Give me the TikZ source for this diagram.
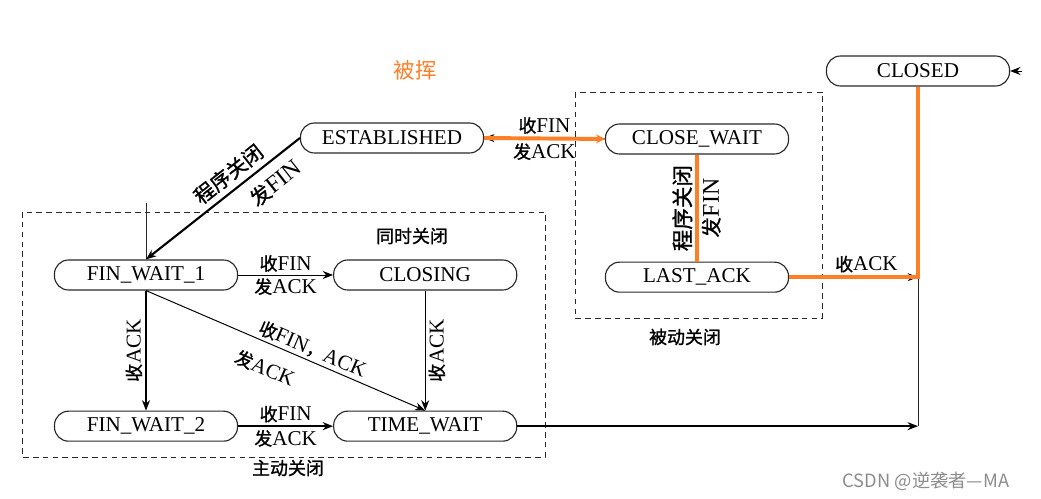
\documentclass[tikz,border=0pt]{standalone}
\usepackage{fontspec}
\setmainfont{Liberation Serif}
\newfontfamily\cjk[Scale=0.85,FakeBold=1.2]{Noto Sans CJK SC}
\newfontfamily\cjklight[Scale=0.85]{Noto Sans CJK SC}
\newfontfamily\wmfont{Noto Sans CJK SC}
\newcommand{\zh}[1]{{\cjk #1}}
\usepackage{tikz}
\usetikzlibrary{positioning,arrows.meta,calc}
\definecolor{hilite}{RGB}{255,127,39}
\definecolor{inkgray}{RGB}{40,40,40}
\tikzset{
  statebox/.style={draw=inkgray, line width=0.8pt, rounded corners=10pt,
                   minimum height=0.75cm, minimum width=4.575cm, inner sep=0pt,
                   font=\fontsize{15}{17}\selectfont},
  edgelabel/.style={font=\fontsize{15}{17}\selectfont, text=black, inner sep=2pt},
  biglabel/.style={edgelabel, font=\fontsize{17}{20}\selectfont},
  grouplabel/.style={font=\fontsize{15}{17}\selectfont},
  dashbox/.style={draw=inkgray, line width=0.7pt, dash pattern=on 4pt off 3pt},
  arrow/.style={-{Stealth[length=2.6mm,width=2mm]}, line width=1.5pt},
  backarrow/.style={{Stealth[length=2.6mm,width=2mm]}-, line width=1.5pt},
  thinarrow/.style={-{Stealth[length=2.6mm,width=2mm]}, line width=0.7pt},
  thinline/.style={line width=0.7pt, inkgray},
  hiline/.style={hilite, line width=2.8pt},
  hiarrow/.style={hiline, -{Stealth[length=2.2mm,width=2.2mm]}},
}

\begin{document}
\begin{tikzpicture}[x=0.025cm, y=-0.025cm, node distance=3cm and 2.375cm]
  \useasboundingbox (0,0) rectangle (1041,499);

  % states
  \node[statebox]                        (established) at (392,138) {ESTABLISHED};
  \node[statebox]                        (closewait)   at (697,139) {CLOSE\_WAIT};
  \node[statebox, below=2.675cm of closewait] (lastack)  {LAST\_ACK};
  \node[statebox]                        (closed)      at (918,71)  {CLOSED};
  \node[statebox]                        (fw1)         at (146,275) {FIN\_WAIT\_1};
  \node[statebox, right=of fw1]          (closing)     {CLOSING};
  \node[statebox, below=of fw1]          (fw2)         {FIN\_WAIT\_2};
  \node[statebox, right=of fw2]          (timewait)    {TIME\_WAIT};

  % groups
  \draw[dashbox] (22,212) rectangle (545,457);
  \draw[dashbox] (575,92) rectangle (822,318);
  \node[grouplabel] (simul)   at (412,236) {\zh{同时关闭}};
  \node[grouplabel] (active)  at (288,468) {\zh{主动关闭}};
  \node[grouplabel] (passive) at (685,337) {\zh{被动关闭}};
  \node[font=\fontsize{18}{20}\cjklight, text=hilite] (note) at (415,70) {被挥};
  \node[font=\fontsize{13}{15}\wmfont, text=black!45] (mark) at (926,481) {CSDN @逆袭者—MA};

  % active close
  \coordinate (fw1in) at (146,203);
  \draw[thinline] (fw1in) -- (fw1.north);
  \draw[backarrow] (fw1.north) -- (established.west)
    node[biglabel, pos=0.60, sloped, above, inner sep=4pt] {\zh{程序关闭}}
    node[biglabel, pos=0.76, sloped, below, inner sep=7pt] {\zh{发}FIN};
  \draw[thinarrow] (fw1) -- (closing)
    node[edgelabel, midway, above] {\zh{收}FIN}
    node[edgelabel, midway, below] {\zh{发}ACK};
  \draw[arrow] (fw1) -- (fw2)
    node[edgelabel, midway, rotate=90, anchor=south] {\zh{收}ACK};
  \draw[thinarrow] (fw1.south) -- (timewait.north)
    node[edgelabel, pos=0.58, sloped, above] {\zh{收}FIN\zh{，}ACK}
    node[edgelabel, pos=0.46, sloped, below, inner sep=11pt] {\zh{发}ACK};
  \draw[thinarrow] (closing) -- (timewait)
    node[edgelabel, midway, rotate=90, anchor=north] {\zh{收}ACK};
  \draw[arrow] (fw2) -- (timewait)
    node[edgelabel, midway, above] {\zh{收}FIN}
    node[edgelabel, midway, below] {\zh{发}ACK};

  % passive close
  \draw[thinarrow] (closewait.west) -- (established.east);
  \draw[hiarrow] (established.east) -- (closewait.west)
    node[edgelabel, midway, above] {\zh{收}FIN}
    node[edgelabel, midway, below] {\zh{发}ACK};
  \draw[hiline] (closewait.south) -- (lastack.north)
    node[biglabel, font=\fontsize{18}{20}\selectfont, midway, rotate=90, anchor=south] {\zh{程序关闭}}
    node[biglabel, midway, rotate=90, anchor=north] {\zh{发}FIN};

  % to closed
  \coordinate (ackcorner) at (lastack.east -| closed.south);
  \coordinate (twcorner)  at (timewait.east -| closed.south);
  \coordinate (closedin)  at ($(closed.east)+(12,0)$);
  \draw[thinarrow] (closedin) -- (closed.east);
  \draw[thinarrow] (lastack) -- (ackcorner);
  \draw[arrow] (timewait) -- (twcorner);
  \draw[thinline] (twcorner) -- (closed.south);
  \draw[hiline] (lastack.east) -- node[edgelabel, pos=0.6, above] {\zh{收}ACK} (ackcorner) -- (closed.south);
\end{tikzpicture}
\end{document}
